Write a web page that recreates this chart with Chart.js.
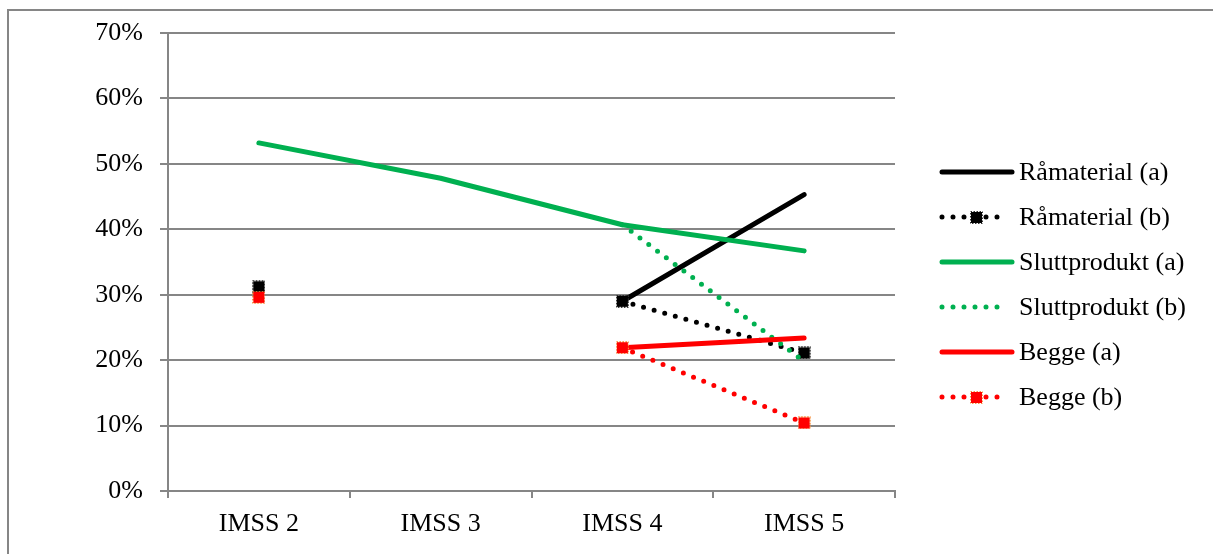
<!DOCTYPE html>
<html>
<head>
<meta charset="utf-8">
<script src="https://cdn.jsdelivr.net/npm/chart.js@4/dist/chart.umd.min.js"></script>
<style>
  html, body { margin: 0; padding: 0; background: #fff; }
  #wrap { width: 1213px; height: 554px; position: relative; }
</style>
</head>
<body>
<div id="wrap"><canvas id="c" width="1213" height="554"></canvas></div>
<script>
// Categories and series values (percent)
const categories = ['IMSS 2', 'IMSS 3', 'IMSS 4', 'IMSS 5'];
const seriesNames = ['Råmaterial (a)', 'Råmaterial (b)', 'Sluttprodukt (a)', 'Sluttprodukt (b)', 'Begge (a)', 'Begge (b)'];
const raamaterialA  = [null, null, 29.0, 45.3];
const raamaterialB  = [31.2, null, 29.0, 21.1];
const sluttproduktA = [53.2, 47.8, 40.7, 36.7];
const sluttproduktB = [null, null, 40.7, 19.8];
const beggeA        = [null, null, 21.9, 23.4];
const beggeB        = [29.6, null, 21.9, 10.4];
const yTickValues   = [0, 10, 20, 30, 40, 50, 60, 70];

const FONT = 'Liberation Serif, Times New Roman, serif';
const FONT_SIZE = 26;
const GRID = '#868686';
const GREEN = '#00b050';
const RED = '#ff0000';
const BLACK = '#000000';
const DOT = [0, 11];

// Small square marker with a dotted outline
function squareMarker(fill, edge) {
  const s = 13;
  const cv = document.createElement('canvas');
  cv.width = s; cv.height = s;
  const g = cv.getContext('2d');
  g.fillStyle = fill;
  g.fillRect(1, 1, s - 2, s - 2);
  g.strokeStyle = edge;
  g.lineWidth = 1;
  g.setLineDash([1.5, 1.5]);
  g.strokeRect(0.5, 0.5, s - 1, s - 1);
  return cv;
}
const blackMarker = squareMarker(BLACK, '#333333');
const redMarker = squareMarker(RED, '#f79646');

const values = [raamaterialA, raamaterialB, sluttproduktA, sluttproduktB, beggeA, beggeB];
const styles = [
  { color: BLACK, dash: [], marker: null },
  { color: BLACK, dash: DOT, marker: blackMarker },
  { color: GREEN, dash: [], marker: null },
  { color: GREEN, dash: DOT, marker: null },
  { color: RED, dash: [], marker: null },
  { color: RED, dash: DOT, marker: redMarker }
];

const datasets = values.map((v, i) => ({
  label: seriesNames[i],
  data: v,
  borderColor: styles[i].color,
  backgroundColor: styles[i].color,
  borderWidth: 5,
  borderDash: styles[i].dash,
  borderCapStyle: 'round',
  borderJoinStyle: 'round',
  tension: 0,
  spanGaps: false,
  pointStyle: styles[i].marker || 'circle',
  pointRadius: styles[i].marker ? 6 : 0,
  pointHoverRadius: styles[i].marker ? 6 : 0,
  order: values.length - i
}));

// Outer frame and legend drawn on the canvas
const framePlugin = {
  id: 'frame',
  beforeDraw(chart) {
    const ctx = chart.ctx;
    ctx.save();
    ctx.fillStyle = '#fff';
    ctx.fillRect(0, 0, chart.width, chart.height);
    ctx.strokeStyle = GRID;
    ctx.lineWidth = 2;
    ctx.beginPath();
    ctx.moveTo(8, chart.height + 5);
    ctx.lineTo(8, 10);
    ctx.lineTo(chart.width + 5, 10);
    ctx.stroke();
    ctx.restore();
  }
};

const legendPlugin = {
  id: 'sideLegend',
  afterDraw(chart) {
    const ctx = chart.ctx;
    const x0 = 942, x1 = 1012, tx = 1019, y0 = 172, step = 45;
    ctx.save();
    ctx.font = FONT_SIZE + 'px ' + FONT;
    ctx.textBaseline = 'middle';
    ctx.textAlign = 'left';
    seriesNames.forEach((name, i) => {
      const y = y0 + i * step;
      const st = styles[i];
      ctx.strokeStyle = st.color;
      ctx.lineWidth = 5;
      ctx.lineCap = 'round';
      ctx.setLineDash(st.dash);
      ctx.beginPath();
      ctx.moveTo(x0, y);
      ctx.lineTo(st.dash.length ? x0 + 60 : x1, y);
      ctx.stroke();
      ctx.setLineDash([]);
      if (st.marker) {
        ctx.drawImage(st.marker, 976 - 6, y - 6);
      }
      ctx.fillStyle = '#000';
      ctx.fillText(name, tx, y + 1);
    });
    ctx.restore();
  }
};

new Chart(document.getElementById('c'), {
  type: 'line',
  data: { labels: categories, datasets },
  plugins: [framePlugin, legendPlugin],
  options: {
    responsive: false,
    animation: false,
    devicePixelRatio: 1,
    layout: { padding: { top: 33, right: 318, left: 0, bottom: 0 } },
    plugins: { legend: { display: false }, tooltip: { enabled: false } },
    scales: {
      x: {
        offset: true,
        grid: { offset: true, drawOnChartArea: false, color: GRID, lineWidth: 2, tickLength: 7 },
        border: { color: GRID, width: 2 },
        ticks: { color: '#000', font: { family: FONT, size: FONT_SIZE }, padding: 11, maxRotation: 0 },
        afterFit(s) { s.height = 63; }
      },
      y: {
        min: 0,
        max: 70,
        afterBuildTicks(s) { s.ticks = yTickValues.map(v => ({ value: v })); },
        grid: { color: GRID, lineWidth: 2, tickLength: 8 },
        border: { color: GRID, width: 2 },
        ticks: { color: '#000', font: { family: FONT, size: FONT_SIZE }, padding: 17, callback: v => v + '%' },
        afterFit(s) { s.width = 168; }
      }
    }
  }
});
</script>
</body>
</html>
